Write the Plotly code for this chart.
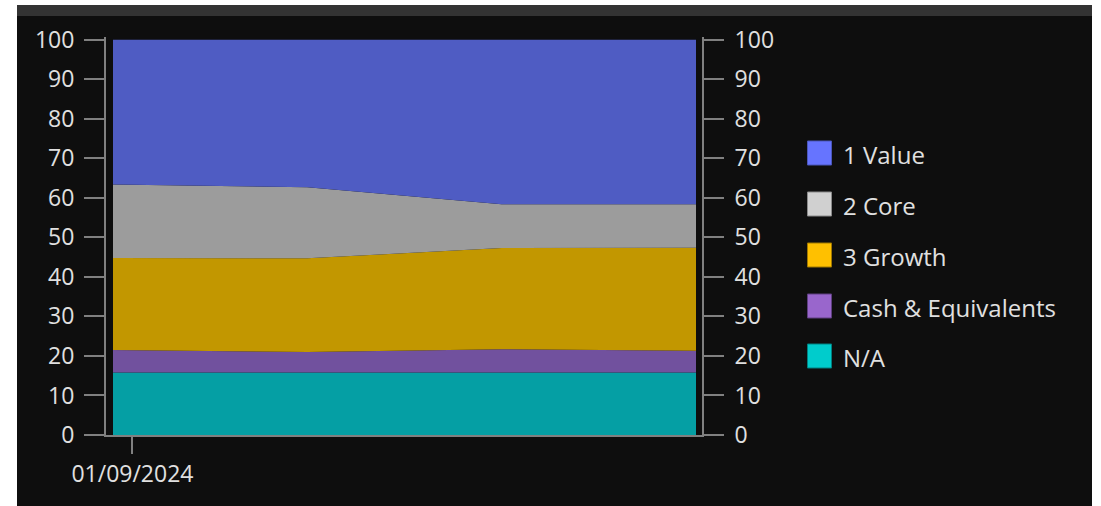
import plotly.graph_objects as go
from datetime import datetime, timedelta

# ---- data ----
dates = ["2024-08-29", "2024-09-28", "2024-10-28", "2024-11-27"]
series_names = ["N/A", "Cash & Equivalents", "3 Growth", "2 Core", "1 Value"]
na_vals = [15.8, 15.8, 15.8, 15.8]
cash_vals = [5.7, 5.2, 5.9, 5.5]
growth_vals = [23.3, 23.7, 25.6, 26.1]
core_vals = [18.6, 18.0, 11.1, 11.0]
value_vals = [36.6, 37.3, 41.6, 41.6]
y_ticks = [0, 10, 20, 30, 40, 50, 60, 70, 80, 90, 100]
x_tick_vals = ["2024-09-01"]
x_tick_text = ["01/09/2024"]
legend_order = ["1 Value", "2 Core", "3 Growth", "Cash & Equivalents", "N/A"]

fill_colors = {
    "N/A": "#059fa4",
    "Cash & Equivalents": "#71519e",
    "3 Growth": "#c29700",
    "2 Core": "#9c9c9c",
    "1 Value": "#4f5cc3",
}
legend_colors = {
    "1 Value": ("#6674ff", "#4a56bb"),
    "2 Core": ("#d0d0d0", "#8a8a8a"),
    "3 Growth": ("#ffc000", "#a07800"),
    "Cash & Equivalents": ("#9966cc", "#5e3f80"),
    "N/A": ("#00cccc", "#008080"),
}

# ---- layout geometry (pixels) ----
W, H = 1101, 506
L, R = 106, 702      # plot area x
T, B = 37, 435       # plot area y
PW, PH = R - L, B - T
TXT = "#e0e0e0"
AX = "#808080"
FONT = "Open Sans"

def px(xp):
    return (xp - L) / PW

def py(yp):
    return (B - yp) / PH

vals = {
    "N/A": na_vals,
    "Cash & Equivalents": cash_vals,
    "3 Growth": growth_vals,
    "2 Core": core_vals,
    "1 Value": value_vals,
}

fig = go.Figure()
for name in series_names:
    fig.add_trace(go.Scatter(
        x=dates, y=vals[name], name=name, mode="lines",
        stackgroup="one", line=dict(width=0),
        fillcolor=fill_colors[name], showlegend=False,
        hoverinfo="x+y+name",
    ))
# invisible trace so the right-hand axis is drawn
fig.add_trace(go.Scatter(x=[dates[0]], y=[None], yaxis="y2", mode="lines",
                         showlegend=False, hoverinfo="skip"))

# x range: a few pixels of padding around the data
d0 = datetime.fromisoformat(dates[0])
d1 = datetime.fromisoformat(dates[-1])
span_days = (d1 - d0).total_seconds() / 86400
data_px = 583.0
per_px = span_days / data_px
x_start = d0 - timedelta(days=7 * per_px)
x_end = d1 + timedelta(days=6 * per_px)

shapes = [
    dict(type="rect", xref="paper", yref="paper", layer="below",
         x0=px(17), x1=px(1092), y0=py(H + 5), y1=py(16),
         fillcolor="#0e0e0e", line=dict(width=0)),
    dict(type="rect", xref="paper", yref="paper", layer="below",
         x0=px(17), x1=px(1092), y0=py(16), y1=py(5),
         fillcolor="#333333", line=dict(width=0)),
]
annotations = []
row_y = [153, 204, 255, 306, 356]
for name, yc in zip(legend_order, row_y):
    c, lc = legend_colors[name]
    shapes.append(dict(type="rect", xref="paper", yref="paper",
                       x0=px(807.5), x1=px(831.5), y0=py(yc + 12), y1=py(yc - 12),
                       fillcolor=c, line=dict(color=lc, width=1)))
    annotations.append(dict(xref="paper", yref="paper", x=px(841), y=py(yc + 1),
                            xanchor="left", yanchor="middle", showarrow=False,
                            text=name, font=dict(family=FONT, size=24, color=TXT)))

axis_common = dict(
    showline=True, linecolor=AX, linewidth=2,
    ticks="outside", ticklen=20, tickwidth=2, tickcolor=AX,
    showgrid=False, zeroline=False,
    tickfont=dict(family=FONT, size=23, color=TXT),
)

fig.update_layout(
    width=W, height=H, autosize=False,
    margin=dict(l=L, r=W - R, t=T, b=H - B, pad=0),
    paper_bgcolor="#ffffff", plot_bgcolor="rgba(0,0,0,0)",
    showlegend=False,
    shapes=shapes, annotations=annotations,
    xaxis=dict(type="date", range=[x_start, x_end],
               tickvals=x_tick_vals, ticktext=x_tick_text,
               **{**axis_common, "ticklen": 17}),
    yaxis=dict(range=[0, 100.7], tickvals=y_ticks, side="left",
               ticklabelstandoff=5, **axis_common),
    yaxis2=dict(range=[0, 100.7], tickvals=y_ticks, side="right",
                overlaying="y", anchor="x", ticklabelstandoff=6, **axis_common),
)

fig.write_html("out.html", config={"displayModeBar": False},
               post_script="document.body.style.margin='0';document.body.style.padding='0';")
